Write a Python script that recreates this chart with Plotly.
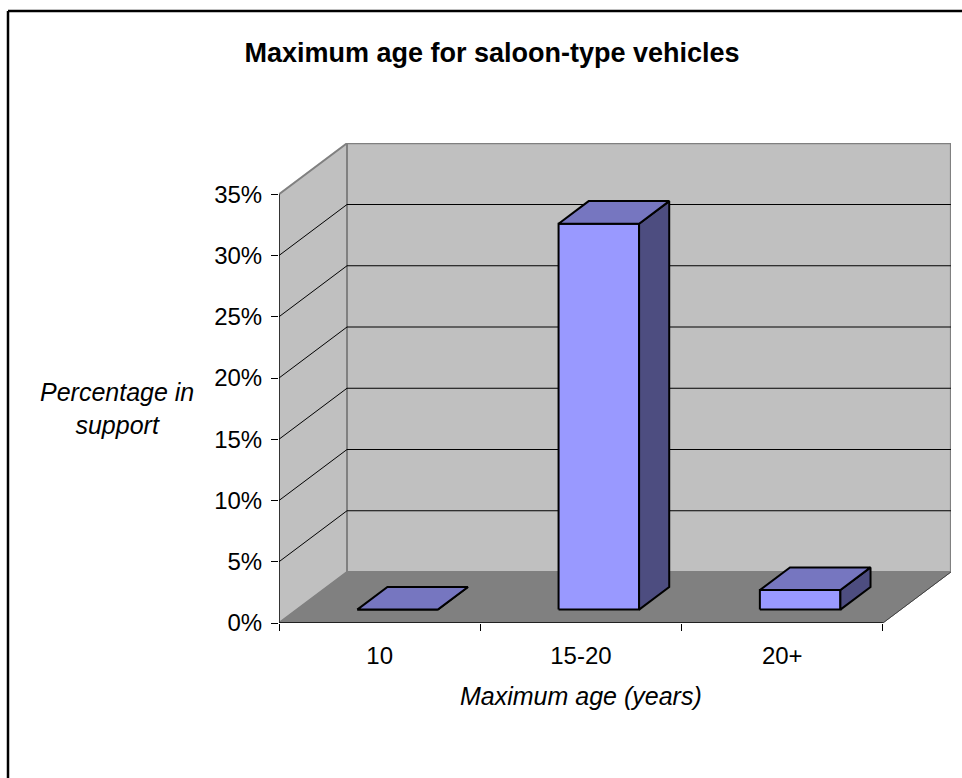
import plotly.graph_objects as go

# ---------------- data ----------------
categories = ["10", "15-20", "20+"]
support_pct = [0.0, 31.5, 1.6]
y_tick_values = [0, 5, 10, 15, 20, 25, 30, 35]
y_tick_labels = ["0%", "5%", "10%", "15%", "20%", "25%", "30%", "35%"]

title_text = "Maximum age for saloon-type vehicles"
x_title = "Maximum age (years)"
y_title = "Percentage in<br>support"

# ---------------- geometry / style ----------------
W, H = 962, 778
ML, MR, MT, MB = 279, 11, 143, 155
PW, PH = W - ML - MR, H - MT - MB
CAT_PX = 201.3          # pixels per category
PX_PER_PCT = 12.25      # pixels per percentage point
DX = 68 / CAT_PX        # depth offset in category units
DY = 51 / PX_PER_PCT    # depth offset in percent units
Y_TOP = y_tick_values[-1]
X0 = -0.5
X1 = X0 + len(categories)
BAR_HALF = 0.2
D0, D1 = 0.263, 0.706   # bar depth slice (fraction of floor depth)

FONT = "Liberation Sans, Arial, sans-serif"
WALL = "#c0c0c0"
FLOOR = "#808080"
EDGE = "#808080"
FRONT = "#9999ff"
TOP = "#7676c0"
SIDE = "#4d4d80"


def proj(x, y, d):
    return x + d * DX, y + d * DY


def poly(points, fill, line_color, line_width):
    xs = [p[0] for p in points] + [points[0][0]]
    ys = [p[1] for p in points] + [points[0][1]]
    return go.Scatter(x=xs, y=ys, mode="lines", fill="toself", fillcolor=fill,
                      line=dict(color=line_color, width=line_width),
                      hoverinfo="skip", showlegend=False)


def seg(p, q, color, width):
    return go.Scatter(x=[p[0], q[0]], y=[p[1], q[1]], mode="lines",
                      line=dict(color=color, width=width),
                      hoverinfo="skip", showlegend=False)


fig = go.Figure()

# left wall
fig.add_trace(poly([proj(X0, 0, 0), proj(X0, Y_TOP, 0), proj(X0, Y_TOP, 1), proj(X0, 0, 1)],
                   WALL, EDGE, 2))
# back wall
fig.add_trace(poly([proj(X0, 0, 1), proj(X1, 0, 1), proj(X1, Y_TOP, 1), proj(X0, Y_TOP, 1)],
                   WALL, EDGE, 2))
# floor
fig.add_trace(poly([proj(X0, 0, 0), proj(X1, 0, 0), proj(X1, 0, 1), proj(X0, 0, 1)],
                   FLOOR, FLOOR, 1))

# gridlines on walls
for v in y_tick_values[1:-1]:
    fig.add_trace(seg(proj(X0, v, 1), proj(X1, v, 1), "black", 1.2))
    fig.add_trace(seg(proj(X0, v, 0), proj(X0, v, 1), "black", 1))
# floor right edge
fig.add_trace(seg(proj(X1, 0, 0), proj(X1, 0, 1), "#404040", 1))

# bars
for i, v in enumerate(support_pct):
    xl, xr = i - BAR_HALF, i + BAR_HALF
    fig.add_trace(poly([proj(xl, 0, D0), proj(xr, 0, D0), proj(xr, v, D0), proj(xl, v, D0)],
                       FRONT, "black", 2))
    fig.add_trace(poly([proj(xr, 0, D0), proj(xr, 0, D1), proj(xr, v, D1), proj(xr, v, D0)],
                       SIDE, "black", 2))
    fig.add_trace(poly([proj(xl, v, D0), proj(xr, v, D0), proj(xr, v, D1), proj(xl, v, D1)],
                       TOP, "black", 2))

# front axes lines
fig.add_trace(seg((X0, 0), (X0, Y_TOP), "black", 1.2))
fig.add_trace(seg((X0, 0), (X1, 0), "black", 1.4))

x_range = [X0, X0 + PW / CAT_PX]
y_range = [0, PH / PX_PER_PCT]


def px_to_paper_x(px):
    return (px - ML) / PW


def px_to_paper_y(py):
    return 1 - (py - MT) / PH


fig.update_layout(
    width=W, height=H, autosize=False,
    margin=dict(l=ML, r=MR, t=MT, b=MB, pad=0),
    paper_bgcolor="white", plot_bgcolor="white",
    font=dict(family=FONT, color="black", size=24),
    showlegend=False,
    title=dict(text="<b>" + title_text + "</b>", x=492 / W, xanchor="center",
               y=1 - 53 / H, yanchor="middle", xref="container", yref="container",
               font=dict(family=FONT, size=27, color="black")),
    xaxis=dict(range=x_range, showgrid=False, zeroline=False, showline=False,
               tickmode="array", tickvals=list(range(len(categories))), ticktext=categories,
               ticks="", ticklabelstandoff=16,
               tickfont=dict(family=FONT, size=24, color="black"),
               minor=dict(tickmode="array",
                          tickvals=[X0 + k for k in range(len(categories) + 1)],
                          ticks="outside", ticklen=7, tickcolor="black", tickwidth=1.2,
                          showgrid=False),
               fixedrange=True),
    yaxis=dict(range=y_range, showgrid=False, zeroline=False, showline=False,
               tickmode="array", tickvals=y_tick_values, ticktext=y_tick_labels,
               ticks="outside", ticklen=7, tickcolor="black", tickwidth=1.2,
               ticklabelstandoff=4,
               tickfont=dict(family=FONT, size=24, color="black"),
               fixedrange=True),
    annotations=[
        dict(text="<i>" + y_title + "</i>", xref="paper", yref="paper",
             x=px_to_paper_x(117), y=px_to_paper_y(408), xanchor="center", yanchor="middle",
             showarrow=False, font=dict(family=FONT, size=25, color="black")),
        dict(text="<i>" + x_title + "</i>", xref="paper", yref="paper",
             x=px_to_paper_x(581), y=px_to_paper_y(696), xanchor="center", yanchor="middle",
             showarrow=False, font=dict(family=FONT, size=25, color="black")),
    ],
    shapes=[
        dict(type="line", xref="paper", yref="paper",
             x0=px_to_paper_x(8), y0=px_to_paper_y(11), x1=px_to_paper_x(980), y1=px_to_paper_y(11),
             line=dict(color="black", width=2.5)),
        dict(type="line", xref="paper", yref="paper",
             x0=px_to_paper_x(8), y0=px_to_paper_y(11), x1=px_to_paper_x(8), y1=px_to_paper_y(800),
             line=dict(color="black", width=2.5)),
    ],
)

fig.write_html("out.html")
